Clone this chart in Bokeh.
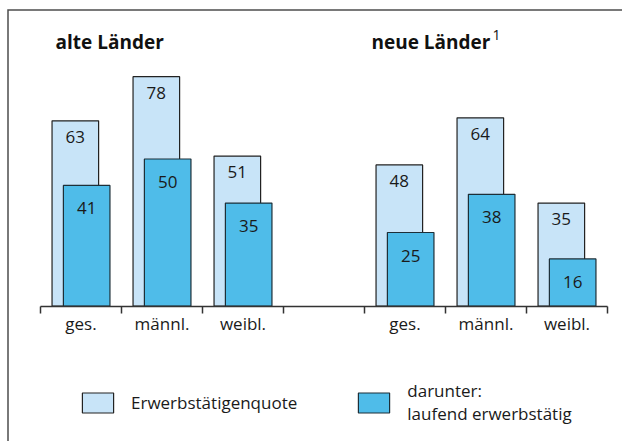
from bokeh.plotting import figure
from bokeh.models import (Range1d, LinearAxis, FixedTicker, Label,
                          Legend, LegendItem, ColumnDataSource)
from bokeh.transform import dodge
from bokeh.core.properties import value
from bokeh.embed import file_html
from bokeh.resources import INLINE

# ---- data ----
groups = ["alte Länder", "neue Länder"]
categories = ["ges.", "männl.", "weibl."]
quote_alt = [63, 78, 51]
laufend_alt = [41, 50, 35]
quote_neu = [48, 64, 35]
laufend_neu = [25, 38, 16]
slots_alt = [0, 1, 2]
slots_neu = [4, 5, 6]
legend_labels = ["Erwerbstätigenquote", "darunter:\nlaufend erwerbstätig"]

# ---- styles ----
LIGHT = "#c8e4f8"
DARK = "#4fbce9"
TXT = "#1a1a1a"
FONT = "Open Sans"

W, H = 622, 441
PX_PER_SLOT = 81.0
X0_PX = 80.5
Y0_PX = 305.5
PX_PER_UNIT = 2.94

x_range = Range1d(-X0_PX / PX_PER_SLOT, (W - X0_PX) / PX_PER_SLOT)
y_range = Range1d(-(H - Y0_PX) / PX_PER_UNIT, Y0_PX / PX_PER_UNIT)

p = figure(width=W, height=H, x_range=x_range, y_range=y_range,
           output_backend="svg", toolbar_location=None, tools="",
           x_axis_location=None, y_axis_location=None, min_border=0,
           outline_line_color=None, background_fill_color="white",
           border_fill_color="white")
p.xgrid.visible = False
p.ygrid.visible = False
p.title.visible = False

# ---- frame (left and top edge of the panel) ----
fx = x_range.start + 7.5 / PX_PER_SLOT
fy = y_range.end - 9.5 / PX_PER_UNIT
p.line(x=[fx, fx, x_range.end], y=[y_range.start, fy, fy],
       line_color="#4d4d4d", line_width=1.5, line_join="miter")

xs = slots_alt + slots_neu
quote = quote_alt + quote_neu
laufend = laufend_alt + laufend_neu
src = ColumnDataSource(dict(x=xs, quote=quote, laufend=laufend,
                            ql=[str(v) for v in quote],
                            ll=[str(v) for v in laufend]))

r_light = p.vbar(x=dodge("x", -0.07), top="quote", bottom=0, width=0.575,
                 source=src, fill_color=LIGHT, line_color="#222222",
                 line_width=1.2)
r_dark = p.vbar(x=dodge("x", 0.07), top="laufend", bottom=0, width=0.575,
                source=src, fill_color=DARK, line_color="#1d2f38",
                line_width=1.2)

p.text(x=dodge("x", -0.07), y="quote", text="ql", y_offset=16,
       text_align="center", text_baseline="middle",
       text_font=value(FONT), text_font_size="17px", text_color=TXT,
       source=src)
p.text(x=dodge("x", 0.07), y="laufend", text="ll", y_offset=23,
       text_align="center", text_baseline="middle",
       text_font=value(FONT), text_font_size="17px", text_color=TXT,
       source=src)

# ---- axis ----
ticker = FixedTicker(ticks=xs,
                     minor_ticks=[-0.5, 0.5, 1.5, 2.5, 3.5, 4.5, 5.5, 6.5])
ax = LinearAxis(ticker=ticker, fixed_location=0, bounds=(-0.5, 6.5))
ax.major_label_overrides = {k: c for k, c in zip(xs, categories * 2)}
ax.major_tick_line_color = None
ax.major_tick_out = 0
ax.major_tick_in = 0
ax.minor_tick_out = 7
ax.minor_tick_in = 0
ax.minor_tick_line_color = "#333333"
ax.minor_tick_line_width = 1.5
ax.axis_line_color = "#333333"
ax.axis_line_width = 1.5
ax.major_label_text_font = FONT
ax.major_label_text_font_size = "17px"
ax.major_label_text_color = TXT
ax.major_label_standoff = -1
p.add_layout(ax, "below")

# ---- group titles ----
p.add_layout(Label(x=55, y=H - 41, x_units="screen", y_units="screen",
                   text=groups[0], text_font=FONT, text_font_size="19px",
                   text_font_style="bold", text_color="#111111",
                   text_baseline="middle"))
p.add_layout(Label(x=371, y=H - 41, x_units="screen", y_units="screen",
                   text=groups[1], text_font=FONT, text_font_size="19px",
                   text_font_style="bold", text_color="#111111",
                   text_baseline="middle"))
p.add_layout(Label(x=492, y=H - 34, x_units="screen", y_units="screen",
                   text="1", text_font=FONT, text_font_size="14px",
                   text_color="#111111", text_baseline="middle"))

# ---- legend ----
legend = Legend(items=[LegendItem(label=legend_labels[0], renderers=[r_light]),
                       LegendItem(label=legend_labels[1], renderers=[r_dark])],
                orientation="horizontal", location=(78, 16),
                glyph_width=39, glyph_height=25, label_standoff=14,
                spacing=57, padding=0, margin=0,
                border_line_color=None, background_fill_alpha=0,
                label_text_font=FONT, label_text_font_size="17px",
                label_text_color=TXT, label_text_baseline="top",
                label_text_line_height=1.55)
p.add_layout(legend)

open("out.html", "w").write(file_html(p, INLINE))
